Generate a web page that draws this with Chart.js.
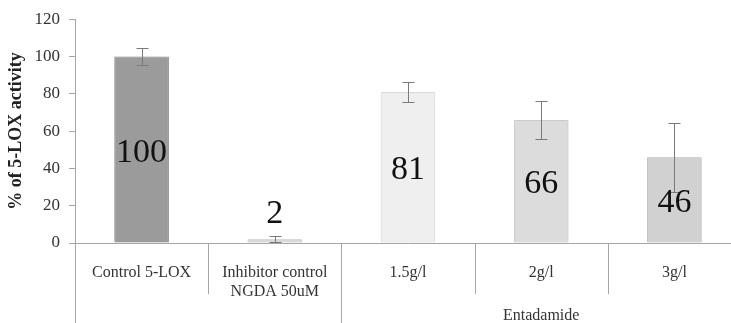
<!DOCTYPE html>
<html>
<head>
<meta charset="utf-8">
<script src="https://cdn.jsdelivr.net/npm/chart.js@4/dist/chart.umd.min.js"></script>
<style>
  html, body { margin: 0; padding: 0; background: #fff; overflow: hidden; width: 731px; height: 323px; }
  #wrap { position: relative; width: 741px; height: 323px; }
</style>
</head>
<body>
<div id="wrap"><canvas id="c" width="741" height="323"></canvas></div>
<script>
// Categories (multi-line labels are arrays)
const categories = [["Control 5-LOX"], ["Inhibitor control", "NGDA 50uM"], ["1.5g/l"], ["2g/l"], ["3g/l"]];
// % of 5-LOX activity
const activity = [100, 2, 81, 66, 46];
// error bar half-widths (+/-)
const errorPlus = [4.5, 1.5, 5.5, 10, 18.5];
const errorMinus = [4.5, 1.5, 5.5, 10, 18.5];
const barColors = ['#9b9b9b', '#d9d9d9', '#efefef', '#dcdcdc', '#d1d1d1'];
const barBorders = ['#939393', '#d0d0d0', '#e2e2e2', '#d3d3d3', '#c8c8c8'];
// group label spanning categories groupStart..groupEnd
const groupLabel = 'Entadamide';
const groupStart = 2;
const groupEnd = 4;
const yTickValues = [0, 20, 40, 60, 80, 100, 120];

const SERIF = '"Liberation Serif", "DejaVu Serif", serif';
const AXIS_GREY = '#a6a6a6';

const barShadow = {
  id: 'barShadow',
  beforeDatasetsDraw(chart) {
    const ctx = chart.ctx;
    ctx.save();
    ctx.shadowColor = 'rgba(0,0,0,0.18)';
    ctx.shadowBlur = 3;
    ctx.shadowOffsetX = 0;
    ctx.shadowOffsetY = 0;
  },
  afterDatasetsDraw(chart) {
    chart.ctx.restore();
  }
};

const errorBars = {
  id: 'errorBars',
  afterDatasetsDraw(chart) {
    const ctx = chart.ctx;
    const y = chart.scales.y;
    const meta = chart.getDatasetMeta(0);
    ctx.save();
    ctx.strokeStyle = '#7a7a7a';
    ctx.lineWidth = 1;
    meta.data.forEach((bar, i) => {
      const v = activity[i];
      const x = Math.round(bar.x) + 0.5;
      const yt = Math.round(y.getPixelForValue(v + errorPlus[i])) + 0.5;
      const yb = Math.round(y.getPixelForValue(Math.max(0, v - errorMinus[i]))) + 0.5;
      ctx.beginPath();
      ctx.moveTo(x, yt); ctx.lineTo(x, yb);
      ctx.moveTo(x - 6, yt); ctx.lineTo(x + 6, yt);
      ctx.moveTo(x - 6, yb); ctx.lineTo(x + 6, yb);
      ctx.stroke();
    });
    ctx.restore();
  }
};

const valueLabels = {
  id: 'valueLabels',
  afterDatasetsDraw(chart) {
    const ctx = chart.ctx;
    const meta = chart.getDatasetMeta(0);
    ctx.save();
    ctx.font = '34px ' + SERIF;
    ctx.fillStyle = '#111';
    ctx.textAlign = 'center';
    ctx.textBaseline = 'alphabetic';
    meta.data.forEach((bar, i) => {
      const h = bar.base - bar.y;
      let baseY;
      if (h > 40) {
        baseY = (bar.y + bar.base) / 2 + 12;
      } else {
        baseY = bar.y - 16;
      }
      ctx.fillText(String(activity[i]), bar.x, baseY);
    });
    ctx.restore();
  }
};

const categoryFrame = {
  id: 'categoryFrame',
  afterDraw(chart) {
    const ctx = chart.ctx;
    const x = chart.scales.x;
    const area = chart.chartArea;
    const H = chart.height;
    const step = x.getPixelForValue(1) - x.getPixelForValue(0);
    const shortEnd = area.bottom + 51;
    ctx.save();
    ctx.strokeStyle = AXIS_GREY;
    ctx.lineWidth = 1;
    // y axis continues down through the label rows
    ctx.beginPath();
    ctx.moveTo(Math.round(area.left) + 0.5, area.bottom);
    ctx.lineTo(Math.round(area.left) + 0.5, H);
    ctx.stroke();
    for (let i = 1; i <= categories.length; i++) {
      const bx = Math.round(x.getPixelForValue(i) - step / 2) + 0.5;
      const end = (i === groupStart) ? H : shortEnd;
      ctx.beginPath();
      ctx.moveTo(bx, area.bottom);
      ctx.lineTo(bx, end);
      ctx.stroke();
    }
    // group label
    const gx = (x.getPixelForValue(groupStart) + x.getPixelForValue(groupEnd)) / 2;
    ctx.font = '16px ' + SERIF;
    ctx.fillStyle = '#333';
    ctx.textAlign = 'center';
    ctx.textBaseline = 'middle';
    ctx.fillText(groupLabel, gx, area.bottom + 73);
    ctx.restore();
  }
};

new Chart(document.getElementById('c'), {
  type: 'bar',
  data: {
    labels: categories,
    datasets: [{
      data: activity,
      backgroundColor: barColors,
      borderColor: barBorders,
      borderWidth: 1,
      barPercentage: 0.41,
      categoryPercentage: 1
    }]
  },
  options: {
    responsive: false,
    devicePixelRatio: 1,
    animation: false,
    layout: { padding: { top: 18, right: 0, bottom: 0, left: 0 } },
    plugins: { legend: { display: false }, tooltip: { enabled: false } },
    scales: {
      x: {
        type: 'category',
        offset: true,
        grid: { display: false },
        border: { color: AXIS_GREY, width: 1 },
        ticks: {
          font: { family: SERIF, size: 16 },
          color: '#333',
          padding: 12,
          maxRotation: 0,
          autoSkip: false
        },
        afterFit(scale) { scale.height = 80; }
      },
      y: {
        min: 0,
        max: 120,
        afterBuildTicks(scale) { scale.ticks = yTickValues.map(v => ({ value: v })); },
        grid: { drawOnChartArea: false, drawTicks: true, tickLength: 6, color: AXIS_GREY },
        border: { color: AXIS_GREY, width: 1 },
        ticks: {
          font: { family: SERIF, size: 17 },
          color: '#333',
          padding: 9
        },
        title: {
          display: true,
          text: '% of 5-LOX activity',
          font: { family: SERIF, size: 18, weight: 'bold' },
          color: '#222',
          padding: { top: 6, bottom: 0 }
        },
        afterFit(scale) { scale.width = 75; }
      }
    }
  },
  plugins: [barShadow, errorBars, valueLabels, categoryFrame]
});
</script>
</body>
</html>
